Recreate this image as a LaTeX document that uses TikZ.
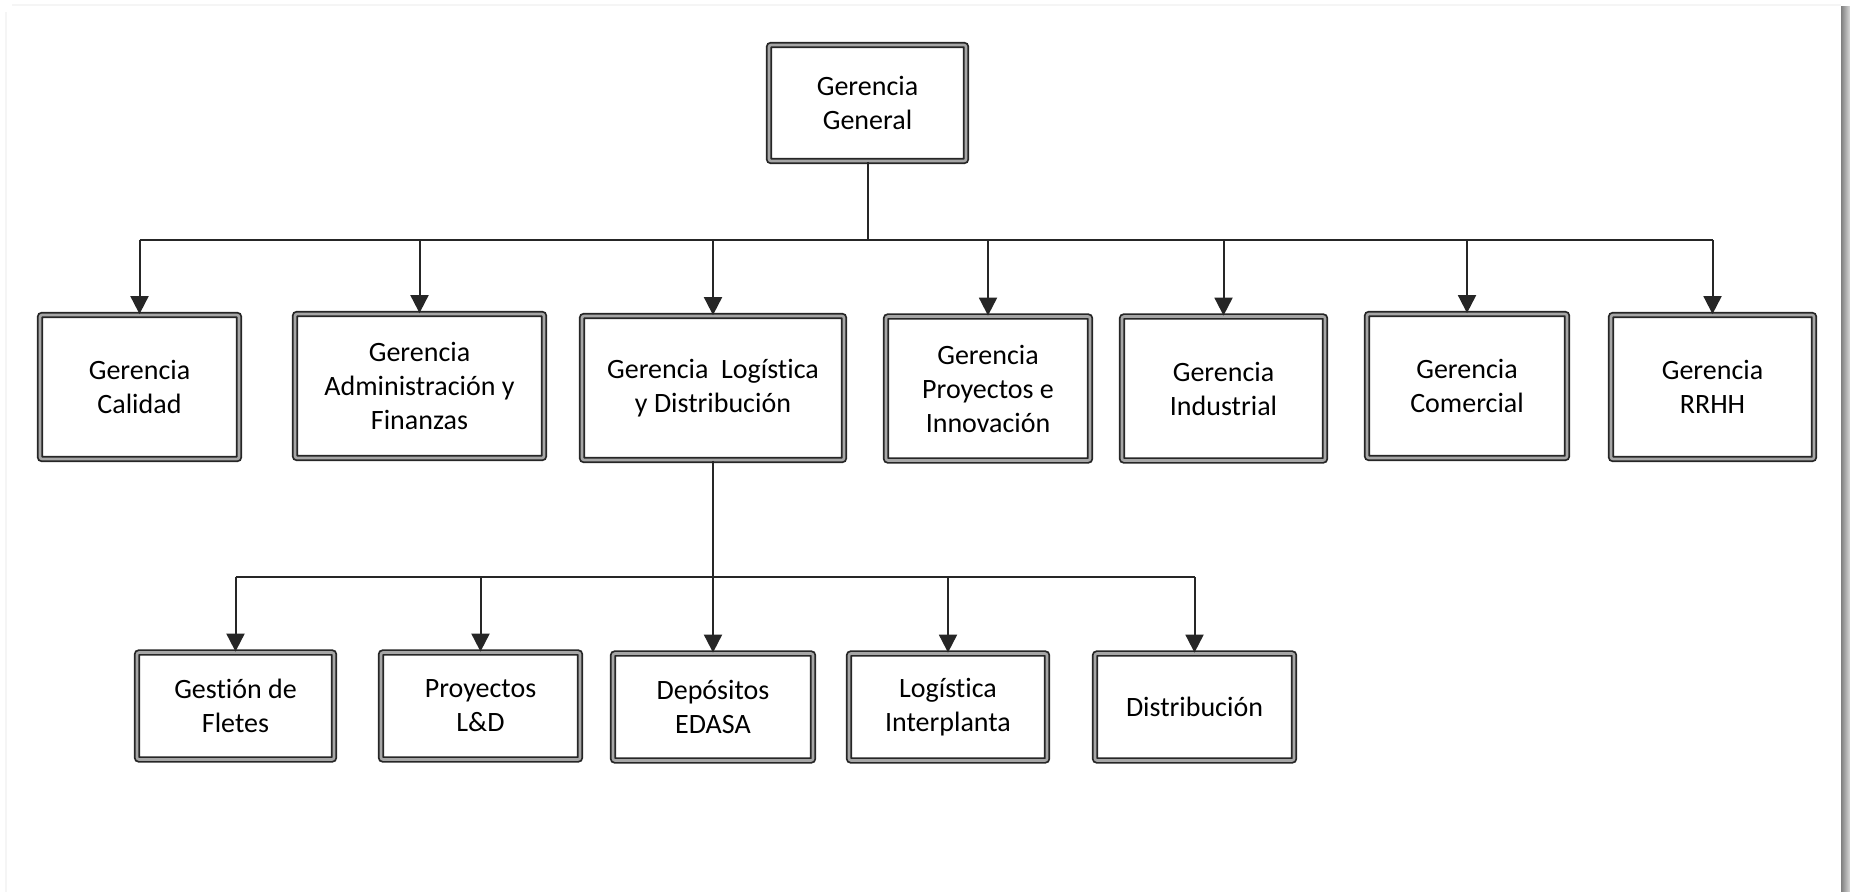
\documentclass[tikz,border=0pt]{standalone}
\usepackage{fontspec}
\setmainfont{Carlito}[Ligatures=NoCommon]
\usetikzlibrary{arrows.meta, positioning, calc}

\begin{document}
\begin{tikzpicture}[x=0.5pt, y=-0.5pt]
			\tikzset{box/.style={draw=black!85, double=black!35, double distance=1.3pt, line width=0.9pt, rounded corners=1pt, fill=white, align=center, inner sep=0pt, font=\fontsize{14}{17}\selectfont}}
			\tikzset{rowA/.style={box, minimum height=72pt}}
			\tikzset{rowB/.style={box, minimum height=53.5pt}}
			\tikzset{conn/.style={line width=1pt, black!85}}
			\tikzset{arrow/.style={conn, -{Triangle[width=9pt, length=9pt]}}}

			\useasboundingbox (0,0) rectangle (1850,892);
			% page edge
			\draw[black!4, line width=1pt] (12,5) -- (1841,5);
			\draw[black!4, line width=1pt] (6,12) -- (6,892);
			\shade[left color=black!50, right color=black!15] (1841,7) rectangle (1850,892);

			\node (gg) [box, minimum width=98.5pt, minimum height=58pt] at (867.5,103) {Gerencia\\General};

			\node (cal) [rowA, minimum width=99.5pt] at (139.5,387) {Gerencia\\Calidad};
			\node (adm) [rowA, minimum width=124.5pt] at (419.5,386) {Gerencia\\Administración y\\Finanzas};
			\node (log) [rowA, minimum width=131pt] at (713,388) {Gerencia~~Logística\\y Distribución};
			\node (pro) [rowA, minimum width=102pt] at (988,388.5) {Gerencia\\Proyectos e\\Innovación};
			\node (ind) [rowA, minimum width=101.5pt] at (1223.5,388.5) {Gerencia\\Industrial};
			\node (com) [rowA, minimum width=100pt] at (1467,386) {Gerencia\\Comercial};
			\node (rrh) [rowA, minimum width=101.5pt] at (1712.5,387) {Gerencia\\RRHH};

			\node (fle) [rowB, minimum width=98.5pt] at (235.5,706) {Gestión de\\Fletes};
			\node (lyd) [rowB, minimum width=99.5pt] at (480.5,706) {Proyectos\\L\&D};
			\node (dep) [rowB, minimum width=100pt] at (713,707) {Depósitos\\EDASA};
			\node (int) [rowB, minimum width=99pt] at (948,707) {Logística\\Interplanta};
			\node (dis) [rowB, minimum width=99.5pt] at (1194.5,707) {Distribución};

			\coordinate (busA) at (0,240);
			\coordinate (busB) at (0,577);

			\draw[conn] (gg.south) -- (gg.south |- busA);
			\draw[conn] (cal.north |- busA) -- (rrh.north |- busA);
			\foreach \n in {cal, adm, log, pro, ind, com, rrh}
				\draw[arrow] (\n.north |- busA) -- (\n.north);

			\draw[arrow] (log.south) -- (dep.north);
			\draw[conn] (fle.north |- busB) -- (dis.north |- busB);
			\foreach \n in {fle, lyd, int, dis}
				\draw[arrow] (\n.north |- busB) -- (\n.north);
\end{tikzpicture}
\end{document}
